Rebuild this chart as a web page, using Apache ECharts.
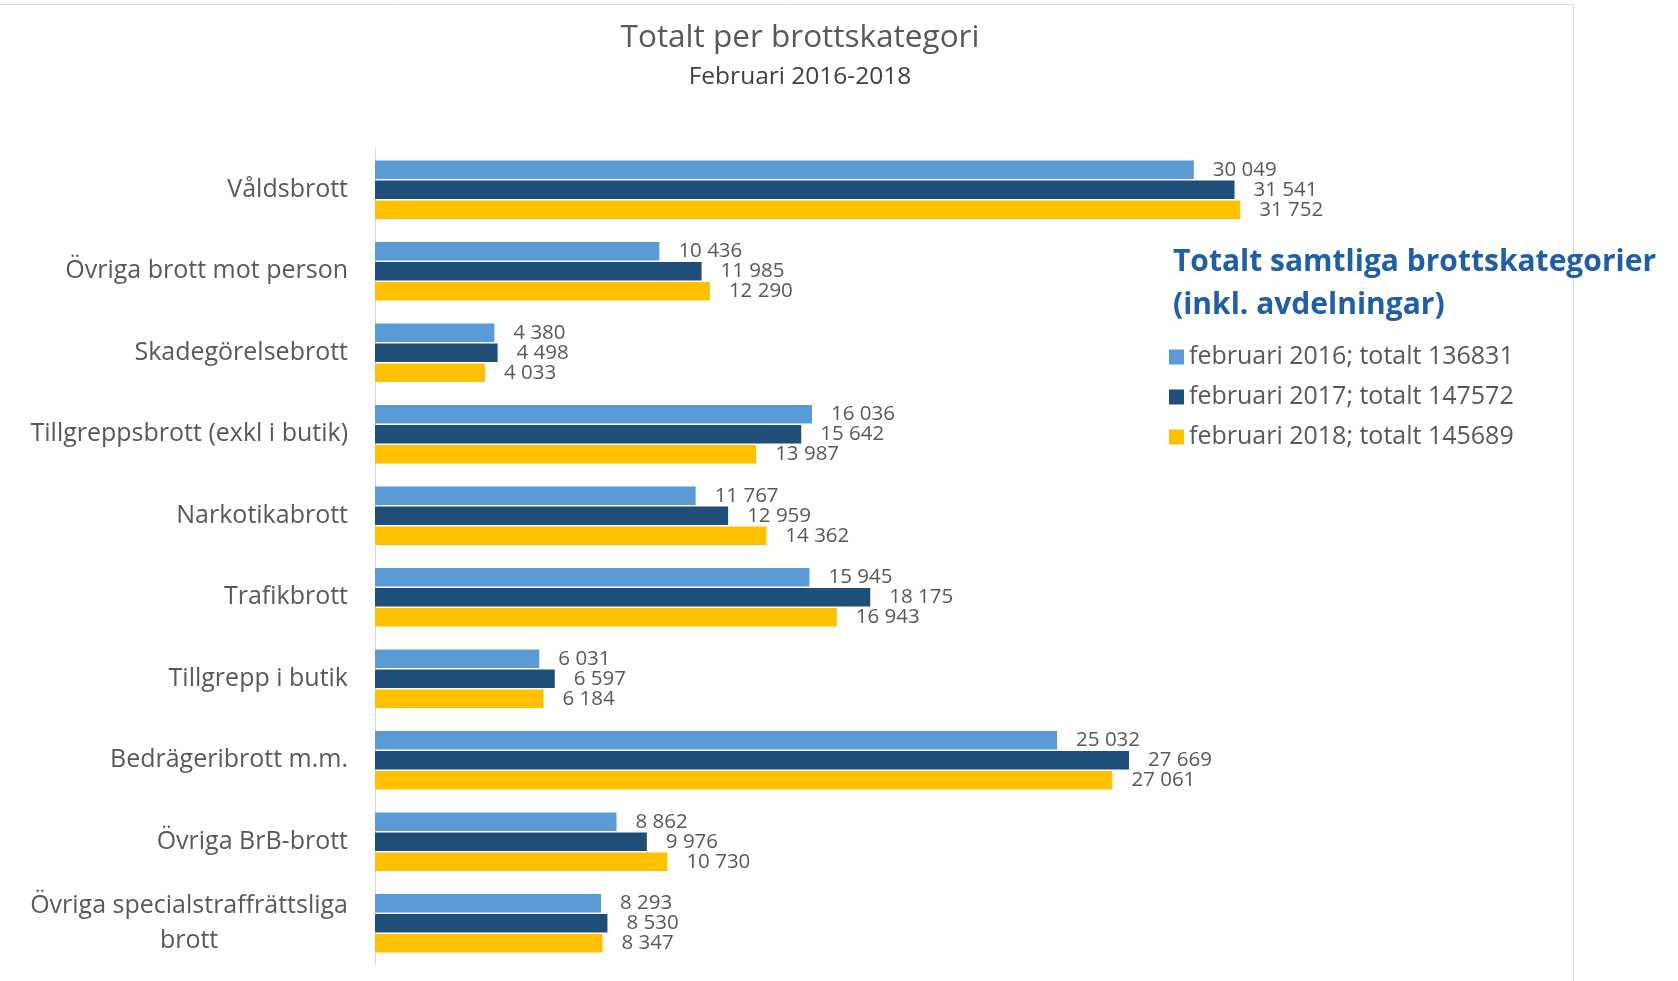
<!DOCTYPE html>
<html>
<head>
<meta charset="utf-8">
<title>Totalt per brottskategori</title>
<script src="https://cdn.jsdelivr.net/npm/echarts@6/dist/echarts.min.js"></script>
<style>
  html, body { margin: 0; padding: 0; background: #fff; }
  #chart { width: 1678px; height: 981px; }
</style>
</head>
<body>
<div id="chart"></div>
<script>
// brottskategorier, uppifrån och ned
const categories = [
  'Våldsbrott',
  'Övriga brott mot person',
  'Skadegörelsebrott',
  'Tillgreppsbrott (exkl i butik)',
  'Narkotikabrott',
  'Trafikbrott',
  'Tillgrepp i butik',
  'Bedrägeribrott m.m.',
  'Övriga BrB-brott',
  'Övriga specialstraffrättsliga\nbrott'
]
const years = ['2016', '2017', '2018']
const totals = [136831, 147572, 145689]
const values2016 = [30049, 10436, 4380, 16036, 11767, 15945, 6031, 25032, 8862, 8293]
const values2017 = [31541, 11985, 4498, 15642, 12959, 18175, 6597, 27669, 9976, 8530]
const values2018 = [31752, 12290, 4033, 13987, 14362, 16943, 6184, 27061, 10730, 8347]

const colors = ['#5b9bd5', '#1f4e79', '#ffc000']
const font = 'Open Sans'

// 30049 -> "30 049"
function fmt(v) {
  return String(v).replace(/\B(?=(\d{3})+(?!\d))/g, ' ')
}

let myChart = echarts.init(document.getElementById('chart'))

let seriesData = [values2016, values2017, values2018]
let series = seriesData.map((data, i) => {
  return {
    name: 'februari ' + years[i] + '; totalt ' + totals[i],
    type: 'bar',
    data: data,
    barCategoryGap: '28%',
    barGap: '8%',
    itemStyle: { color: colors[i] },
    label: {
      show: true,
      position: 'right',
      distance: 19,
      color: '#595959',
      fontFamily: font,
      fontSize: 20.5,
      formatter: p => fmt(p.value)
    }
  }
})

let option = {
  animation: false,
  textStyle: { fontFamily: font },
  title: [
    {
      text: 'Totalt per brottskategori',
      left: 795,
      top: 17,
      textAlign: 'center',
      textStyle: { color: '#595959', fontSize: 31.5, fontWeight: 'normal', fontFamily: font }
    },
    {
      text: 'Februari 2016-2018',
      left: 795,
      top: 60,
      textAlign: 'center',
      textStyle: { color: '#404040', fontSize: 24.5, fontWeight: 'normal', fontFamily: font }
    },
    {
      text: 'Totalt samtliga brottskategorier\n(inkl. avdelningar)',
      left: 1168,
      top: 236,
      textStyle: { color: '#1f5fa6', fontSize: 30, fontWeight: 'bold', lineHeight: 43, fontFamily: font }
    }
  ],
  legend: {
    orient: 'vertical',
    left: 1164,
    top: 338,
    itemWidth: 15,
    itemHeight: 15,
    itemGap: 12,
    icon: 'rect',
    textStyle: { color: '#595959', fontSize: 25, lineHeight: 28, fontFamily: font }
  },
  grid: {
    left: 375,
    top: 149,
    width: 1090,
    bottom: 17,
    containLabel: false
  },
  xAxis: {
    type: 'value',
    min: 0,
    max: 40000,
    show: false
  },
  yAxis: {
    type: 'category',
    inverse: true,
    data: categories,
    axisLine: { show: true, lineStyle: { color: '#d9d9d9', width: 1 } },
    axisTick: { show: false },
    axisLabel: {
      margin: 27,
      color: '#595959',
      fontSize: 25,
      fontFamily: font,
      formatter: v => v.split('\n').map(s => '{c|' + s + '}').join('\n'),
      rich: {
        c: { align: 'center', color: '#595959', fontSize: 25, lineHeight: 35, fontFamily: font }
      }
    }
  },
  graphic: [
    {
      type: 'polyline',
      shape: { points: [[0, 4.5], [1573.5, 4.5], [1573.5, 981]] },
      style: { stroke: '#d9d9d9', lineWidth: 1, fill: null }
    }
  ],
  series: series
}

myChart.setOption(option, true)
</script>
</body>
</html>
